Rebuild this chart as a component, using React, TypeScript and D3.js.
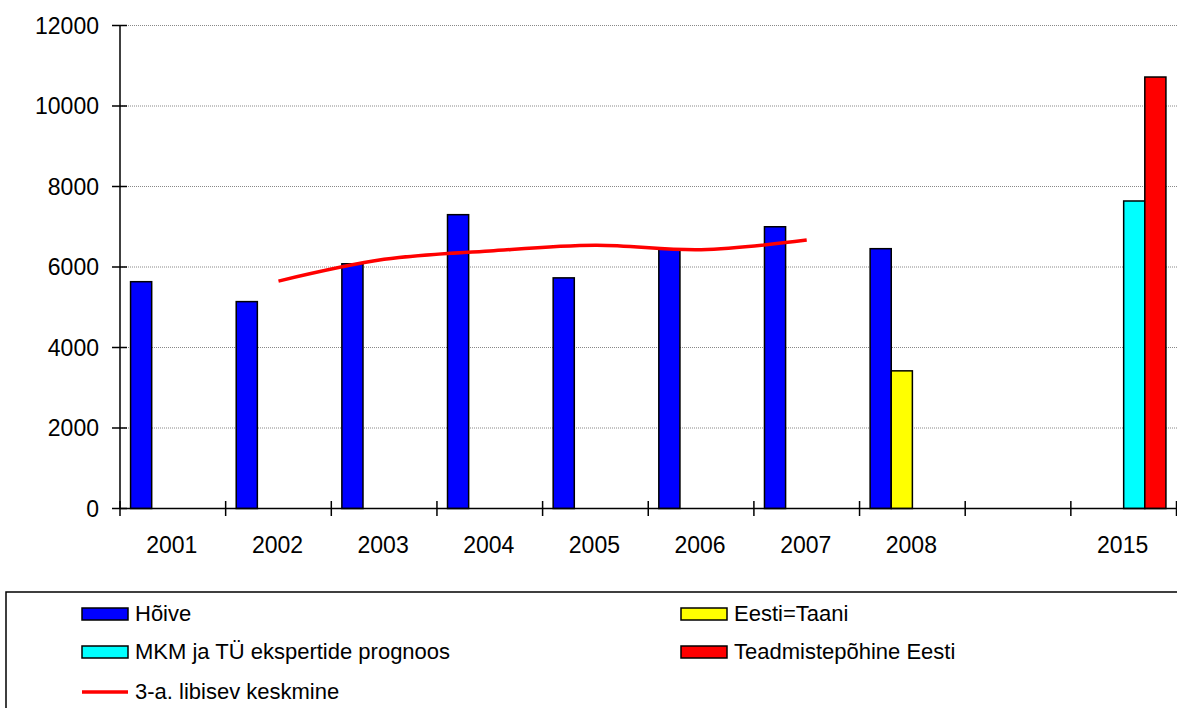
import React from "react";
import * as d3 from "d3";

const categories = ["2001", "2002", "2003", "2004", "2005", "2006", "2007", "2008", "", "2015"];
const seriesNames = ["Hõive", "Eesti=Taani", "MKM ja TÜ ekspertide prognoos", "Teadmistepõhine Eesti"];
const seriesColors = ["#0000FF", "#FFFF00", "#00FFFF", "#FF0000"];
const hoive: (number | null)[] = [5635, 5140, 6080, 7300, 5730, 6450, 7000, 6455, null, null];
const eestiTaani: (number | null)[] = [null, null, null, null, null, null, null, 3420, null, null];
const mkmPrognoos: (number | null)[] = [null, null, null, null, null, null, null, null, null, 7640];
const teadmistepohine: (number | null)[] = [null, null, null, null, null, null, null, null, null, 10720];
const movingAvg: (number | null)[] = [null, 5650, 6190, 6400, 6540, 6430, 6670, null, null, null];
const movingAvgName = "3-a. libisev keskmine";
const yTicks = [0, 2000, 4000, 6000, 8000, 10000, 12000];

const W = 1177;
const H = 708;
const FONT = "Arial, 'Liberation Sans', sans-serif";

export default function App() {
  const left = 120;
  const right = 1176.5;
  const y0 = 508.5;
  const yTop = 25.5;
  const x = d3.scaleBand<string>().domain(categories.map((_, i) => String(i))).range([left, right]).padding(0);
  const xs = d3.scaleBand<string>().domain(seriesNames).range([0, x.bandwidth()]).paddingInner(0).paddingOuter(0.5);
  const y = d3.scaleLinear().domain([0, 12000]).range([y0, yTop]);
  const allSeries = [hoive, eestiTaani, mkmPrognoos, teadmistepohine];

  const linePts = movingAvg
    .map((v, i) => (v == null ? null : ([x(String(i))! + x.bandwidth() / 2, y(v)] as [number, number])))
    .filter((p): p is [number, number] => p != null);
  const linePath = d3.line().curve(d3.curveCatmullRom.alpha(0.5))(linePts) || "";

  const legendItems = [
    { name: seriesNames[0], color: seriesColors[0], x: 82, y: 614, type: "rect" },
    { name: seriesNames[1], color: seriesColors[1], x: 681, y: 614, type: "rect" },
    { name: seriesNames[2], color: seriesColors[2], x: 82, y: 652, type: "rect" },
    { name: seriesNames[3], color: seriesColors[3], x: 681, y: 652, type: "rect" },
    { name: movingAvgName, color: "#FF0000", x: 82, y: 692, type: "line" },
  ];

  return (
    <svg width={W} height={H} style={{ position: "absolute", left: 0, top: 0, background: "#fff" }} fontFamily={FONT}>
      <rect x={0} y={0} width={W} height={H} fill="#fff" />
      {/* gridlines */}
      {yTicks.filter((t) => t > 0).map((t) => (
        <line key={t} x1={left} x2={W} y1={y(t)} y2={y(t)} stroke="#888" strokeWidth={1} strokeDasharray="1,1" />
      ))}
      {/* bars */}
      {allSeries.map((s, si) =>
        s.map((v, i) =>
          v == null ? null : (
            <rect
              key={si + "-" + i}
              x={x(String(i))! + xs(seriesNames[si])!}
              y={y(v)}
              width={xs.bandwidth()}
              height={y0 - y(v)}
              fill={seriesColors[si]}
              stroke="#000"
              strokeWidth={1.5}
            />
          )
        )
      )}
      {/* moving average */}
      <path d={linePath} fill="none" stroke="#FF0000" strokeWidth={3.5} />
      {/* axes */}
      <line x1={left} x2={left} y1={yTop} y2={y0} stroke="#000" strokeWidth={1.5} />
      <line x1={left} x2={W} y1={y0} y2={y0} stroke="#000" strokeWidth={1.5} />
      {yTicks.map((t) => (
        <g key={t}>
          <line x1={112} x2={127} y1={y(t)} y2={y(t)} stroke="#000" strokeWidth={1.5} />
          <text x={99} y={y(t) + 2} textAnchor="end" dominantBaseline="middle" fontSize={23} fill="#000">
            {t}
          </text>
        </g>
      ))}
      {categories.map((c, i) => (
        <line key={"t" + i} x1={x(String(i))!} x2={x(String(i))!} y1={501} y2={516} stroke="#000" strokeWidth={1.5} />
      ))}
      <line x1={right} x2={right} y1={501} y2={516} stroke="#000" strokeWidth={1.5} />
      {categories.map((c, i) => (
        <text key={"l" + i} x={x(String(i))! + x.bandwidth() / 2 - 1} y={547} textAnchor="middle" dominantBaseline="middle" fontSize={23} fill="#000">
          {c}
        </text>
      ))}
      {/* legend */}
      <rect x={6} y={592} width={1300} height={200} fill="#fff" stroke="#000" strokeWidth={1.5} />
      {legendItems.map((it) => (
        <g key={it.name}>
          {it.type === "rect" ? (
            <rect x={it.x} y={it.y - 6} width={46} height={12} fill={it.color} stroke="#000" strokeWidth={1.5} />
          ) : (
            <line x1={it.x} x2={it.x + 46} y1={it.y} y2={it.y} stroke={it.color} strokeWidth={3.5} />
          )}
          <text x={it.x + 53} y={it.y + 1} dominantBaseline="middle" fontSize={22} fill="#000">
            {it.name}
          </text>
        </g>
      ))}
    </svg>
  );
}
